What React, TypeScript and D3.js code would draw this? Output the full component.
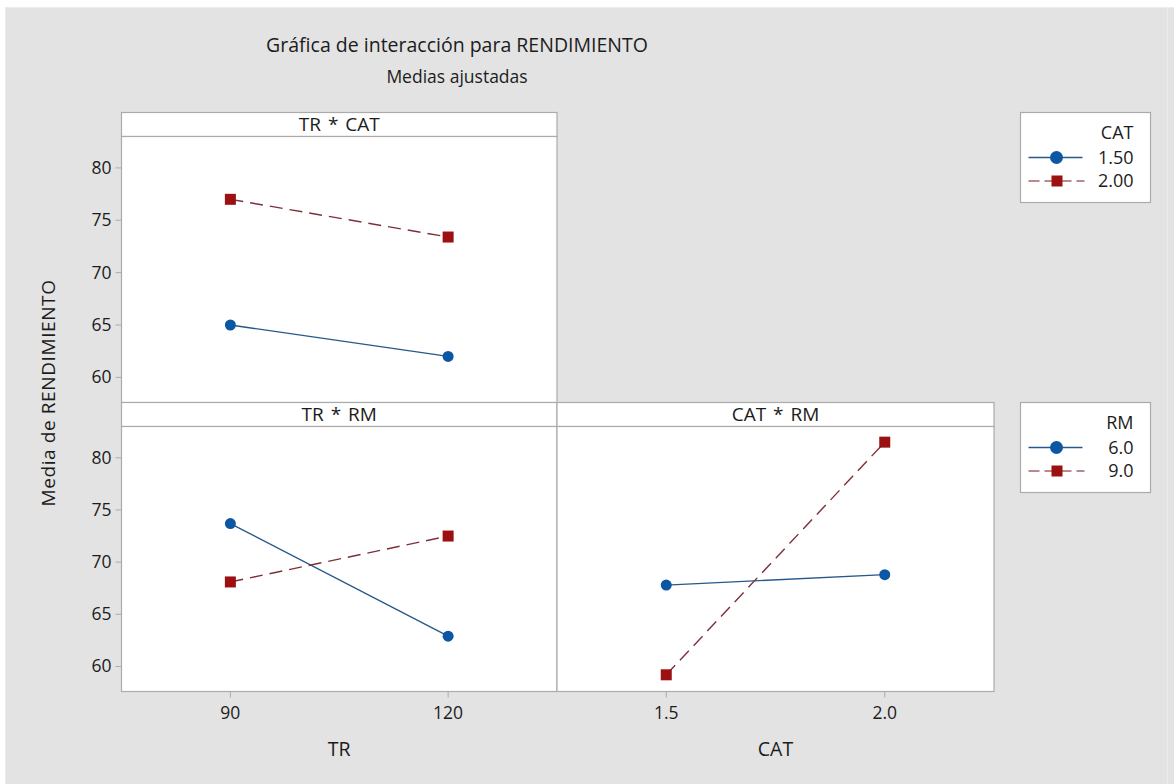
import React from "react";
import * as d3 from "d3";

// factor levels
const trLevels = [90, 120];
const catLevels = [1.5, 2.0];
const catLegend = ["1.50", "2.00"];
const rmLegend = ["6.0", "9.0"];
const yTicks = [60, 65, 70, 75, 80];

// adjusted means
const trCat15 = [65.0, 62.0];
const trCat20 = [77.0, 73.4];
const trRm6 = [73.7, 62.9];
const trRm9 = [68.1, 72.5];
const catRm6 = [67.8, 68.8];
const catRm9 = [59.2, 81.5];

const BLUE = "#0c57a3";
const BLUE_LINE = "#27588a";
const RED = "#9b1111";
const RED_LINE = "#7f2f3a";
const FONT = "'Open Sans', 'Noto Sans', sans-serif";
const BORDER = "#ababab";
const TEXT = "#1c1c1c";

type Series = { values: number[]; kind: "circle" | "square" };

const yDomain: [number, number] = [57.6, 83.0];

const Panel = ({ x0, y0, w, stripH, plotH, title, levels, xDomain, series, yAxis, xAxis, xFormat, xTitle }: any) => {
  const x = d3.scaleLinear().domain(xDomain).range([x0, x0 + w]);
  const top = y0 + stripH;
  const y = d3.scaleLinear().domain(yDomain).range([top + plotH, top]);
  const line = d3.line<number>().x((_, i) => x(levels[i])).y(d => y(d));
  return (
    <g>
      <rect x={x0} y={y0} width={w} height={stripH} fill="#fff" stroke={BORDER} strokeWidth={1.2} />
      <text x={x0 + w / 2} y={y0 + stripH / 2 + 6.5} textAnchor="middle" fontSize={19} wordSpacing={2} fill={TEXT} fontFamily={FONT}>{title}</text>
      <rect x={x0} y={top} width={w} height={plotH} fill="#fff" stroke={BORDER} strokeWidth={1.2} />
      {series.map((s: Series, k: number) => (
        <g key={k}>
          <path d={line(s.values) || ""} fill="none"
            stroke={s.kind === "circle" ? BLUE_LINE : RED_LINE}
            strokeWidth={1.4}
            strokeDasharray={s.kind === "circle" ? undefined : "13,7"} />
          {s.values.map((v, i) => s.kind === "circle"
            ? <circle key={i} cx={x(levels[i])} cy={y(v)} r={5.5} fill={BLUE} />
            : <rect key={i} x={x(levels[i]) - 5.5} y={y(v) - 5.5} width={11} height={11} fill={RED} />)}
        </g>
      ))}
      {yAxis && yTicks.map(t => (
        <g key={t}>
          <line x1={x0 - 6} x2={x0} y1={y(t)} y2={y(t)} stroke={BORDER} />
          <text x={x0 - 10} y={y(t) + 6} textAnchor="end" fontSize={17.5} fill={TEXT} fontFamily={FONT}>{t}</text>
        </g>
      ))}
      {xAxis && levels.map((l: number) => (
        <g key={l}>
          <line x1={x(l)} x2={x(l)} y1={top + plotH} y2={top + plotH + 6} stroke={BORDER} />
          <text x={x(l)} y={top + plotH + 27} textAnchor="middle" fontSize={17.5} fill={TEXT} fontFamily={FONT}>{xFormat(l)}</text>
        </g>
      ))}
      {xAxis && (
        <text x={x0 + w / 2} y={top + plotH + 64} textAnchor="middle" fontSize={19.5} fill={TEXT} fontFamily={FONT}>{xTitle}</text>
      )}
    </g>
  );
};

const Legend = ({ x0, y0, title, labels }: any) => {
  const w = 130, h = 90;
  const right = x0 + 113;
  return (
    <g>
      <rect x={x0} y={y0} width={w} height={h} fill="#fff" stroke={BORDER} strokeWidth={1.2} />
      <text x={right} y={y0 + 26} textAnchor="end" fontSize={18} fill={TEXT} fontFamily={FONT}>{title}</text>
      {labels.map((lab: string, i: number) => {
        const cy = y0 + 45 + i * 23.5;
        return (
          <g key={lab}>
            {i === 0 ? (
              <>
                <line x1={x0 + 8} x2={x0 + 62} y1={cy} y2={cy} stroke={BLUE_LINE} strokeWidth={1.5} />
                <circle cx={x0 + 36} cy={cy} r={6.5} fill={BLUE} />
              </>
            ) : (
              <>
                <line x1={x0 + 8} x2={x0 + 64} y1={cy} y2={cy} stroke="#b88a8e" strokeWidth={1.8} strokeDasharray="11,5" />
                <rect x={x0 + 31} y={cy - 5.5} width={11} height={11} fill={RED} />
              </>
            )}
            <text x={right} y={cy + 6} textAnchor="end" fontSize={18} fill={TEXT} fontFamily={FONT}>{lab}</text>
          </g>
        );
      })}
    </g>
  );
};

export default function App() {
  const W = 1174, H = 784;
  const leftX = 121.5, leftW = 435.5, rightX = 557, rightW = 437;
  const stripH = 24, plotH = 265;
  const topY = 112.5, botY = 402.5;
  return (
    <svg width={W} height={H} style={{ position: "absolute", left: 0, top: 0 }}>
      <rect x={0} y={0} width={W} height={H} fill="#fff" />
      <rect x={5} y={7} width={W - 5} height={H - 7} fill="#e3e3e3" />
      <line x1={5.5} x2={5.5} y1={7} y2={H} stroke="#ececec" />
      <line x1={5} x2={W} y1={7.5} y2={7.5} stroke="#ececec" />
      <line x1={1167.5} x2={1167.5} y1={7} y2={H} stroke="#ececec" />

      <text x={457} y={52} textAnchor="middle" fontSize={19.5} fill={TEXT} fontFamily={FONT}>Gráfica de interacción para RENDIMIENTO</text>
      <text x={457} y={83} textAnchor="middle" fontSize={17.5} fill={TEXT} fontFamily={FONT}>Medias ajustadas</text>

      <text transform={`translate(55,${393}) rotate(-90)`} textAnchor="middle" fontSize={19} letterSpacing={0.6} fill={TEXT} fontFamily={FONT}>Media de RENDIMIENTO</text>

      <Panel x0={leftX} y0={topY} w={leftW} stripH={stripH} plotH={plotH + 1} title="TR * CAT"
        levels={trLevels} xDomain={[75, 135]} yAxis
        series={[{ values: trCat15, kind: "circle" }, { values: trCat20, kind: "square" }]} />
      <Panel x0={leftX} y0={botY} w={leftW} stripH={stripH} plotH={plotH} title="TR * RM"
        levels={trLevels} xDomain={[75, 135]} yAxis xAxis xFormat={(v: number) => String(v)} xTitle="TR"
        series={[{ values: trRm6, kind: "circle" }, { values: trRm9, kind: "square" }]} />
      <Panel x0={rightX} y0={botY} w={rightW} stripH={stripH} plotH={plotH} title="CAT * RM"
        levels={catLevels} xDomain={[1.25, 2.25]} xAxis xFormat={(v: number) => v.toFixed(1)} xTitle="CAT"
        series={[{ values: catRm6, kind: "circle" }, { values: catRm9, kind: "square" }]} />

      <Legend x0={1020.5} y0={112.5} title="CAT" labels={catLegend} />
      <Legend x0={1020.5} y0={402.5} title="RM" labels={rmLegend} />
    </svg>
  );
}
